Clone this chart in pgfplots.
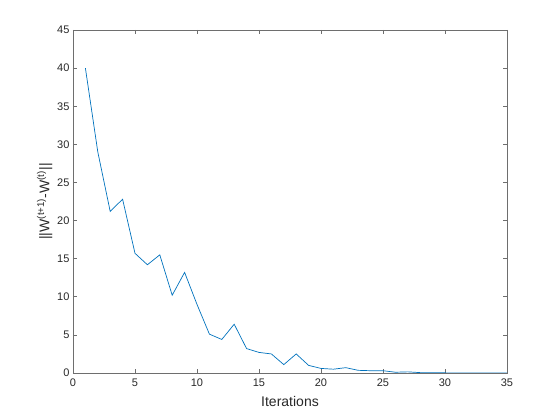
\documentclass[border=0pt]{standalone}
\usepackage{pgfplots}
\pgfplotsset{compat=1.18}
\usepackage{fontspec}
\setmainfont{Liberation Sans}
\definecolor{mblue}{RGB}{0,114,189}
\definecolor{axgray}{RGB}{110,110,110}
\definecolor{txtgray}{RGB}{40,40,40}
\begin{document}
\begin{tikzpicture}[x=1pt,y=1pt]
\path (-73,-47) rectangle (487,373);
\begin{axis}[
  at={(0,0)}, anchor=south west,
  scale only axis, width=434pt, height=343pt,
  xmin=0, xmax=35, ymin=0, ymax=45,
  xtick={0,5,...,35}, ytick={0,5,...,45},
  tick align=inside, major tick length=4pt,
  axis line style={axgray, line width=0.6pt},
  every tick/.style={axgray, line width=0.6pt},
  tick label style={font=\fontsize{11}{13}\selectfont, text=txtgray},
  xticklabel style={yshift=-2pt},
  /pgf/number format/assume math mode=true,
  xlabel={Iterations},
  ylabel={||W\textsuperscript{(t+1)}-W\textsuperscript{(t)}||},
  label style={font=\fontsize{14}{16}\selectfont, text=txtgray},
  xlabel style={yshift=-3pt},
  ylabel style={yshift=-2pt},
]
\addplot[mblue, line width=0.7pt] coordinates {
(1,40.0) (2,29.0) (3,21.2) (4,22.8) (5,15.7) (6,14.2) (7,15.5) (8,10.2) (9,13.2) (10,9.0)
(11,5.1) (12,4.4) (13,6.4) (14,3.2) (15,2.7) (16,2.5) (17,1.1) (18,2.5) (19,1.0) (20,0.6)
(21,0.5) (22,0.7) (23,0.35) (24,0.3) (25,0.3) (26,0.1) (27,0.15) (28,0.05) (29,0.05) (30,0.02)
(31,0.01) (32,0.01) (33,0.01) (34,0.01) (35,0.01)
};
\end{axis}
\end{tikzpicture}
\end{document}
